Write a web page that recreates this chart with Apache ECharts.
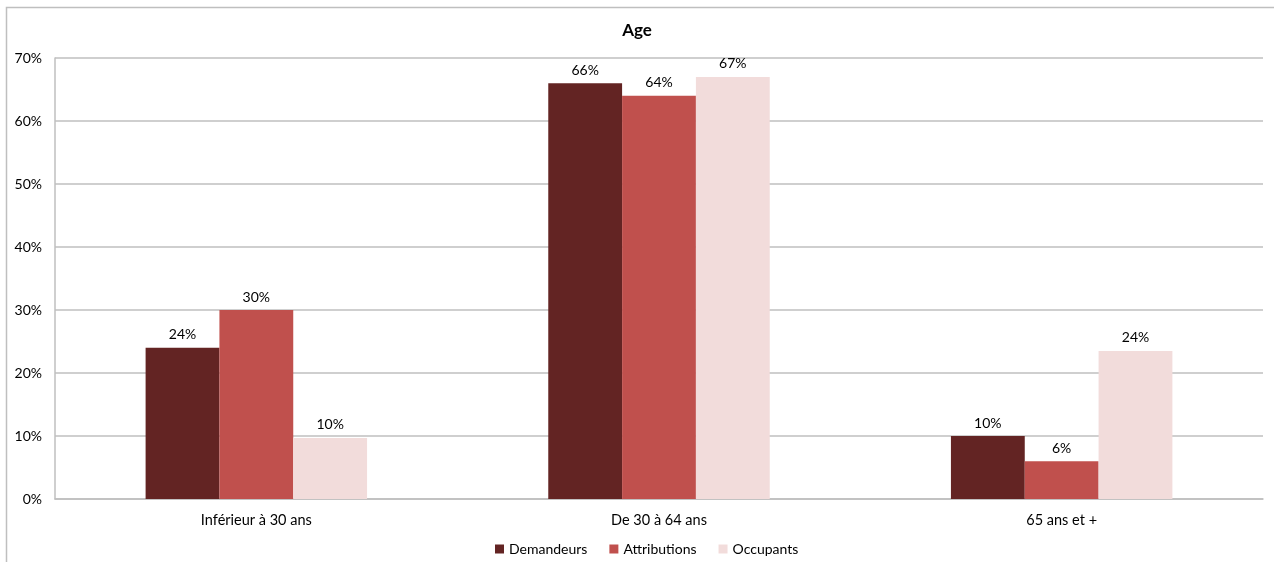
<!DOCTYPE html>
<html>
<head>
<meta charset="utf-8">
<script src="https://cdn.jsdelivr.net/npm/echarts@6/dist/echarts.min.js"></script>
<style>
  html, body { margin: 0; padding: 0; background: #fff; }
  #chart { width: 1274px; height: 562px; }
</style>
</head>
<body>
<div id="chart"></div>
<script>
// Age groups and shares (%) per population
const categories = ['Inférieur à 30 ans', 'De 30 à 64 ans', '65 ans et +'];
const demandeurs = [24, 66, 10];
const attributions = [30, 64, 6];
const occupants = [9.7, 67, 23.5];
const seriesNames = ['Demandeurs', 'Attributions', 'Occupants'];
const seriesColors = ['#632423', '#c0504d', '#f2dcdb'];

const font = 'Lato, Open Sans, sans-serif';

function barSeries(name, data, color) {
  return {
    name: name,
    type: 'bar',
    data: data,
    barGap: '0%',
    barCategoryGap: '45%',
    itemStyle: { color: color },
    label: {
      show: true,
      position: 'top',
      distance: 6,
      color: '#000',
      fontFamily: font,
      fontSize: 14,
      formatter: p => Math.round(p.value) + '%'
    }
  };
}

const chart = echarts.init(document.getElementById('chart'), null, { renderer: 'canvas' });
chart.setOption({
  animation: false,
  backgroundColor: '#fff',
  title: {
    text: 'Age',
    left: 'center',
    top: 17,
    textStyle: { fontFamily: font, fontSize: 17, fontWeight: 'bold', color: '#000' }
  },
  legend: {
    bottom: 1,
    left: 490,
    itemWidth: 9,
    itemHeight: 9,
    itemGap: 22,
    icon: 'rect',
    textStyle: { fontFamily: font, fontSize: 14, color: '#000' },
    data: seriesNames
  },
  grid: { left: 55, right: 11, top: 58, bottom: 63 },
  xAxis: {
    type: 'category',
    data: categories,
    axisLine: { show: true, lineStyle: { color: '#bfbfbf', width: 1.5 } },
    axisTick: { show: false },
    axisLabel: { color: '#000', fontFamily: font, fontSize: 14.5, margin: 14 }
  },
  yAxis: {
    type: 'value',
    min: 0,
    max: 70,
    interval: 10,
    axisLine: { show: true, lineStyle: { color: '#bfbfbf', width: 1.5 } },
    axisTick: { show: false },
    splitLine: { lineStyle: { color: '#bfbfbf', width: 1.5 } },
    axisLabel: { color: '#000', fontFamily: font, fontSize: 14, margin: 13, formatter: '{value}%' }
  },
  graphic: [{
    type: 'rect',
    shape: { x: 6.5, y: 7.5, width: 1400, height: 700 },
    style: { fill: 'none', stroke: '#bfbfbf', lineWidth: 1.5 },
    silent: true
  }],
  series: [
    barSeries(seriesNames[0], demandeurs, seriesColors[0]),
    barSeries(seriesNames[1], attributions, seriesColors[1]),
    barSeries(seriesNames[2], occupants, seriesColors[2])
  ]
});
</script>
</body>
</html>
